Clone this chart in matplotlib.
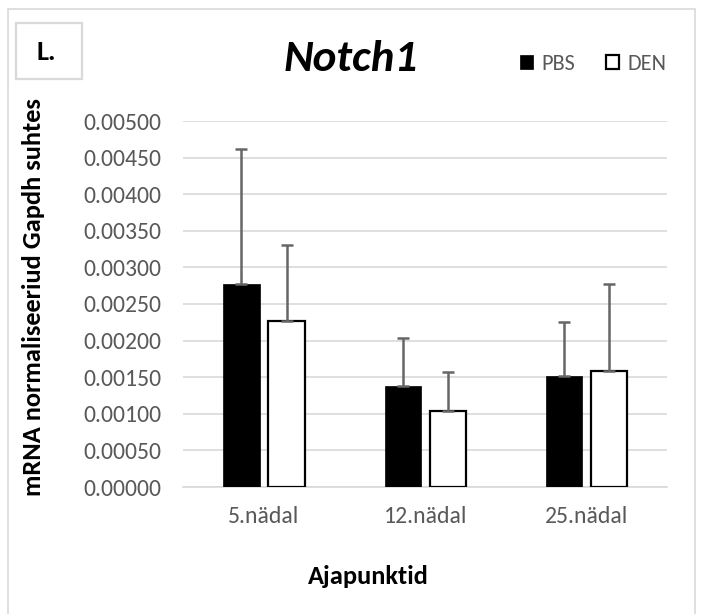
import numpy as np
import matplotlib
matplotlib.use('Agg')
import matplotlib.pyplot as plt
from matplotlib.patches import Rectangle

# data
categories = ['5.nädal', '12.nädal', '25.nädal']
pbs = [0.00277, 0.00138, 0.00152]
pbs_err = [0.00185, 0.00066, 0.00074]
den = [0.00227, 0.00104, 0.00159]
den_err = [0.00103, 0.00053, 0.00119]
yticks = np.arange(0, 0.00501, 0.0005)

plt.rcParams['font.family'] = ['Carlito', 'DejaVu Sans']
W, H = 701, 614
fig = plt.figure(figsize=(W / 100, H / 100), dpi=100)

def fx(px):
    return px / W

def fy(py):
    return 1 - py / H

# outer chart border and "L." box
fig.patches.append(Rectangle((fx(7.5), fy(640)), fx(695) - fx(7.5), fy(9) - fy(640),
                             transform=fig.transFigure, fill=False, edgecolor='#d9d9d9', lw=1.2))
fig.patches.append(Rectangle((fx(16), fy(79)), fx(82) - fx(16), fy(23) - fy(79),
                             transform=fig.transFigure, fill=False, edgecolor='#d9d9d9', lw=1.6))
fig.text(fx(46), fy(52), 'L.', fontsize=20.5, weight='bold', ha='center', va='center')

ax = fig.add_axes([fx(183.3), fy(487), fx(667.3) - fx(183.3), fy(121) - fy(487)])
x = np.arange(len(categories))
w = 0.225
off = 0.14
err_kw = dict(ecolor='#666666', elinewidth=1.8, capsize=4.5, capthick=1.8)
b1 = ax.bar(x - off, pbs, w, color='black', edgecolor='black', lw=0.5,
            yerr=[np.zeros(3), pbs_err], error_kw=err_kw, label='PBS', zorder=3)
b2 = ax.bar(x + off, den, w, color='white', edgecolor='black', lw=1.6,
            yerr=[np.zeros(3), den_err], error_kw=err_kw, label='DEN', zorder=3)

ax.set_xlim(-0.5, 2.5)
ax.set_ylim(0, 0.005)
ax.set_yticks(yticks)
ax.set_yticklabels(['%.5f' % v for v in yticks])
ax.set_xticks(x)
ax.set_xticklabels(categories)
ax.grid(axis='y', color='#d9d9d9', lw=1.2, zorder=0)
for s in ['top', 'right', 'left']:
    ax.spines[s].set_visible(False)
ax.spines['bottom'].set_color('#d9d9d9')
ax.spines['bottom'].set_linewidth(1.2)
ax.tick_params(axis='both', length=0, labelsize=17, labelcolor='#595959')
ax.tick_params(axis='y', pad=16)
ax.tick_params(axis='x', pad=14)

fig.text(fx(351), fy(59), 'Notch1', fontsize=32.5, weight='bold', style='italic',
         ha='center', va='center')
fig.text(fx(368), fy(577), 'Ajapunktid', fontsize=19, weight='bold', ha='center', va='center')
fig.text(fx(34), fy(297), 'mRNA normaliseeriud Gapdh suhtes', fontsize=19, weight='bold',
         rotation=90, ha='center', va='center')

fig.legend(handles=[b1, b2], labels=['PBS', 'DEN'], ncol=2, frameon=False,
           loc='center left', bbox_to_anchor=(fx(520), fy(63.5)), borderpad=0,
           borderaxespad=0, handlelength=0.6, handleheight=0.6, handletextpad=0.35,
           columnspacing=1.4, fontsize=16, labelcolor='#595959')

fig.savefig('out.png', dpi=100)
